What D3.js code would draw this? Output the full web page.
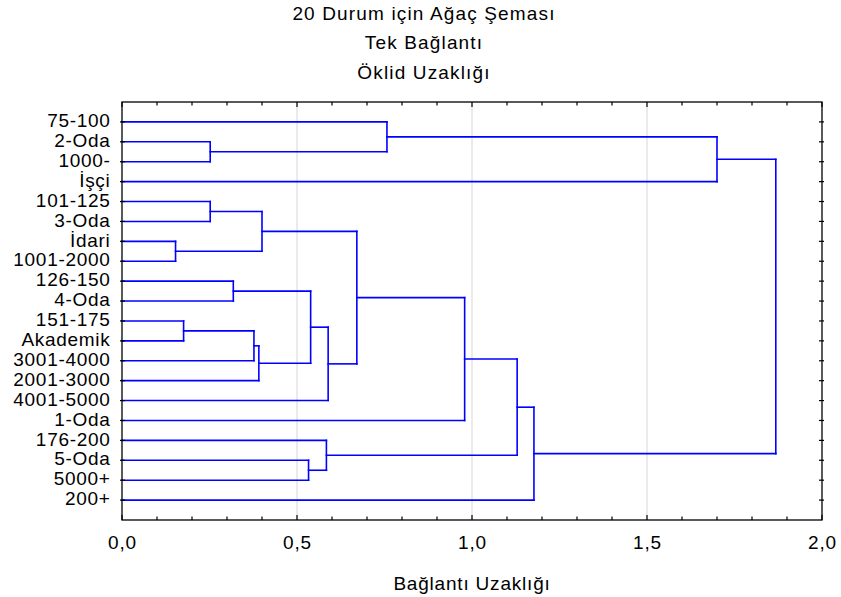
<!DOCTYPE html>
<html>
<head>
<meta charset="utf-8">
<script src="https://cdn.jsdelivr.net/npm/d3@7"></script>
<style>
  html, body { margin: 0; padding: 0; background: #fff; }
  svg { display: block; }
  text { font-family: "Liberation Sans", Arial, sans-serif; fill: #000; }
</style>
</head>
<body>
<script>
// ---- Data ----
const titleLines = ["20 Durum için Ağaç Şeması", "Tek Bağlantı", "Öklid Uzaklığı"];
const xAxisTitle = "Bağlantı Uzaklığı";
const leafLabels = ["75-100", "2-Oda", "1000-", "İşçi", "101-125", "3-Oda", "İdari", "1001-2000",
  "126-150", "4-Oda", "151-175", "Akademik", "3001-4000", "2001-3000", "4001-5000", "1-Oda",
  "176-200", "5-Oda", "5000+", "200+"];
// linkage: node ids 0..19 are leaves, 20+k is merge k
const mergeLeft   = [6, 10, 1, 4, 8, 21, 25, 23, 17, 24, 16, 29, 27, 0, 32, 34, 35, 33, 37];
const mergeRight  = [7, 11, 2, 5, 9, 12, 13, 20, 18, 26, 28, 14, 31, 22, 15, 30, 19, 3, 36];
const mergeHeight = [0.153, 0.176, 0.252, 0.252, 0.318, 0.377, 0.391, 0.400, 0.533, 0.539,
  0.584, 0.589, 0.671, 0.757, 0.979, 1.129, 1.177, 1.700, 1.868];
const xTicks = [0, 0.5, 1.0, 1.5, 2.0];
const xMinorTicks = d3.range(0, 2.0001, 0.1);

(function () {
// ---- Layout ----
const W = 841, H = 597;
const pL = 122, pR = 822, pT = 102, pB = 520;
const FS = 19;

const svg = d3.select("body").append("svg").attr("width", W).attr("height", H);

const x = d3.scaleLinear().domain([0, 2]).range([pL, pR]);
const y = d3.scalePoint().domain(leafLabels).range([pT, pB]).padding(1);

// titles
svg.append("g").selectAll("text").data(titleLines).join("text")
  .attr("x", 424).attr("y", (d, i) => 20 + i * 29.3)
  .attr("text-anchor", "middle").attr("font-size", FS)
  .attr("letter-spacing", "1.15px").text(d => d);

// grid
svg.append("g").selectAll("line").data(xTicks.filter(d => d > 0 && d < 2)).join("line")
  .attr("x1", d => x(d)).attr("x2", d => x(d)).attr("y1", pT).attr("y2", pB)
  .attr("stroke", "#d6d6d6").attr("stroke-width", 1);

// dendrogram positions
const n = leafLabels.length;
const nodeX = [], nodeY = [];
leafLabels.forEach((l, i) => { nodeX[i] = 0; nodeY[i] = y(l); });
const segs = [];
mergeHeight.forEach((h, k) => {
  const a = mergeLeft[k], b = mergeRight[k], id = n + k;
  nodeX[id] = h; nodeY[id] = (nodeY[a] + nodeY[b]) / 2;
  segs.push([nodeX[a], nodeY[a], h, nodeY[a]]);
  segs.push([nodeX[b], nodeY[b], h, nodeY[b]]);
  segs.push([h, nodeY[a], h, nodeY[b]]);
});
svg.append("g").selectAll("line").data(segs).join("line")
  .attr("x1", d => x(d[0])).attr("y1", d => d[1])
  .attr("x2", d => x(d[2])).attr("y2", d => d[3])
  .attr("stroke", "#0000ff").attr("stroke-width", 1.6).attr("stroke-linecap", "square");

// axes frame
const axG = svg.append("g").attr("stroke", "#000").attr("fill", "none");
axG.append("rect").attr("x", pL).attr("y", pT).attr("width", pR - pL).attr("height", pB - pT)
  .attr("stroke-width", 1.3);

// x ticks top & bottom (inward)
const isMajor = d => Math.abs(d * 2 - Math.round(d * 2)) < 1e-6;
axG.selectAll("line.tb").data(xMinorTicks).join("line").attr("class", "tb")
  .attr("x1", d => x(d)).attr("x2", d => x(d))
  .attr("y1", pT).attr("y2", d => pT + (isMajor(d) ? 5 : 3.5)).attr("stroke-width", 1.2);
axG.selectAll("line.bb").data(xMinorTicks).join("line").attr("class", "bb")
  .attr("x1", d => x(d)).attr("x2", d => x(d))
  .attr("y1", pB).attr("y2", d => pB - (isMajor(d) ? 5 : 3.5)).attr("stroke-width", 1.2);
// y ticks left & right
leafLabels.forEach(l => {
  axG.append("line").attr("x1", pL - 2).attr("x2", pL + 3).attr("y1", y(l)).attr("y2", y(l)).attr("stroke-width", 1.2);
  axG.append("line").attr("x1", pR - 3).attr("x2", pR + 2).attr("y1", y(l)).attr("y2", y(l)).attr("stroke-width", 1.2);
});

// x tick labels
svg.append("g").selectAll("text").data(xTicks).join("text")
  .attr("x", d => x(d) + 0.5).attr("y", 549).attr("text-anchor", "middle").attr("font-size", FS)
  .attr("letter-spacing", "0.9px")
  .text(d => d3.format(".1f")(d).replace(".", ","));

// leaf labels
svg.append("g").selectAll("text").data(leafLabels).join("text")
  .attr("x", 110.5).attr("y", d => y(d) + 5.2).attr("text-anchor", "end").attr("font-size", FS)
  .attr("letter-spacing", "0.7px")
  .text(d => d);

// x axis title
svg.append("text").attr("x", (pL + pR) / 2).attr("y", 590).attr("text-anchor", "middle")
  .attr("font-size", FS).attr("letter-spacing", "0.8px").text(xAxisTitle);
})();
</script>
</body>
</html>
